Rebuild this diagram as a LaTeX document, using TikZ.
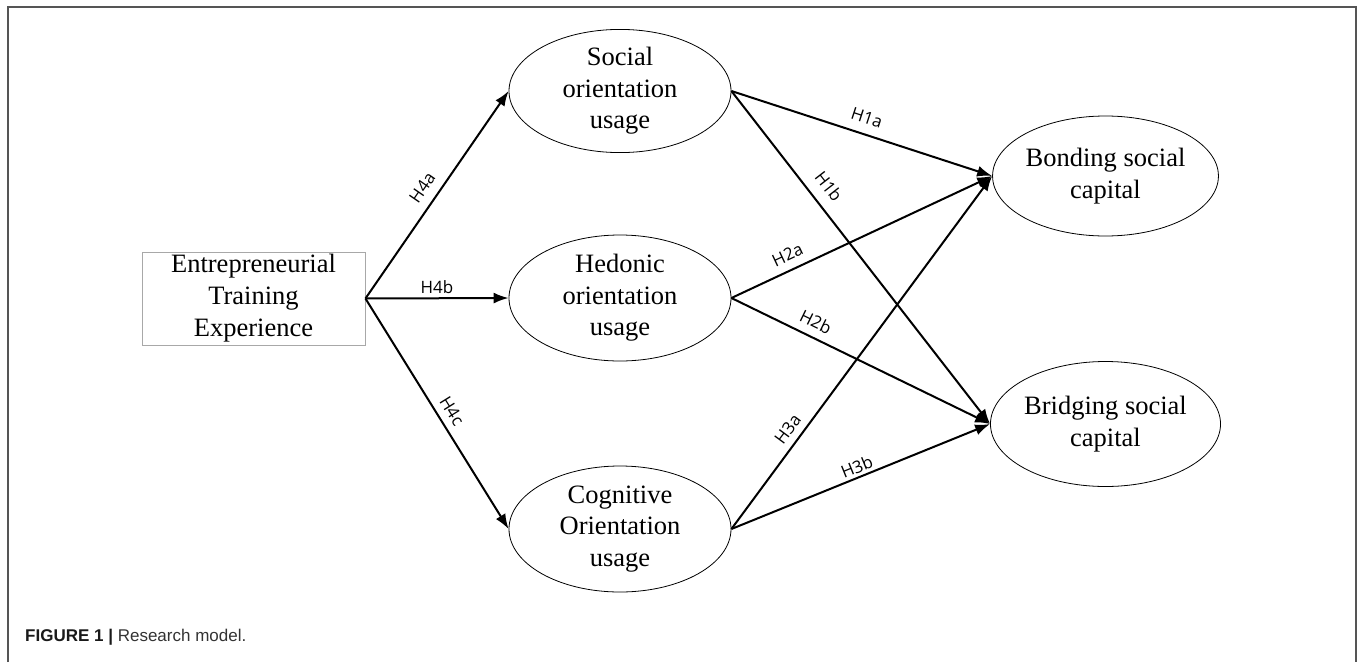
\documentclass[tikz,border=0pt]{standalone}
\usepackage{fontspec}
\setmainfont{Liberation Serif}
\newfontfamily\labelfont{Open Sans}
\newfontfamily\capfont{Liberation Sans}
\usetikzlibrary{shapes.geometric,arrows.meta}
\definecolor{framegray}{HTML}{555555}
\definecolor{boxgray}{HTML}{A8A8A8}
\definecolor{capgray}{HTML}{333333}
\begin{document}
\begin{tikzpicture}[x=1pt,y=-1pt,
  construct/.style={ellipse,draw=black,line width=0.8pt,inner sep=0pt,align=center,
    font=\fontsize{26.5}{31.5}\selectfont},
  trainbox/.style={rectangle,draw=boxgray,line width=0.9pt,inner sep=0pt,align=center,
    minimum width=223pt,minimum height=93pt,font=\fontsize{26.5}{32}\selectfont},
  path/.style={line width=2pt,-{Latex[length=15pt,width=11pt]}},
  hyp/.style={font=\labelfont\fontsize{17}{19}\selectfont,inner sep=2pt,sloped}
]
\useasboundingbox (0,0) rectangle (1358,662);
\draw[framegray,line width=2pt] (8,662) -- (8,6.5) -- (1355.5,6.5) -- (1355.5,662);

\node[trainbox] (ete) at (253.5,298.5) {Entrepreneurial\\Training\\Experience};

\node[construct,minimum width=222pt,minimum height=121pt] (soc) at (620,91) {Social\\orientation\\usage};
\node[construct,minimum width=222pt,minimum height=126pt] (hed) at (620,298) {Hedonic\\orientation\\usage};
\node[construct,minimum width=222pt,minimum height=126pt] (cog) at (620,529) {Cognitive\\Orientation\\usage};
\node[construct,minimum width=223pt,minimum height=120pt] (bond) at (1105.5,176) {Bonding social\\capital};
\node[construct,minimum width=223pt,minimum height=125pt] (bridge) at (1105.5,424) {Bridging social\\capital};

\draw[path] (ete.east) -- node[hyp,pos=0.49,above=7pt] {H4a} (soc.west);
\draw[path] (ete.east) -- node[hyp,pos=0.5,above=2pt] {H4b} (hed.west);
\draw[path] (ete.east) -- node[hyp,pos=0.52,above=5pt] {H4c} (cog.west);

\draw[path] (soc.east) -- node[hyp,pos=0.5,above=7pt] {H1a} (bond.west);
\draw[path] (soc.east) -- node[hyp,pos=0.32,above=9pt] {H1b} (bridge.west);
\draw[path] (hed.east) -- node[hyp,pos=0.24,above=6pt] {H2a} (bond.west);
\draw[path] (hed.east) -- node[hyp,pos=0.3,above=6pt] {H2b} (bridge.west);
\draw[path] (cog.east) -- node[hyp,pos=0.26,above=5pt] {H3a} (bond.west);
\draw[path] (cog.east) -- node[hyp,pos=0.5,above=1pt] {H3b} (bridge.west);

\node[anchor=base west,inner sep=0pt,font=\capfont\fontsize{17}{19}\selectfont] (cap) at (25,641)
  {\textcolor{black!90}{\bfseries FIGURE 1 |} \textcolor{capgray}{Research model.}};
\end{tikzpicture}
\end{document}
